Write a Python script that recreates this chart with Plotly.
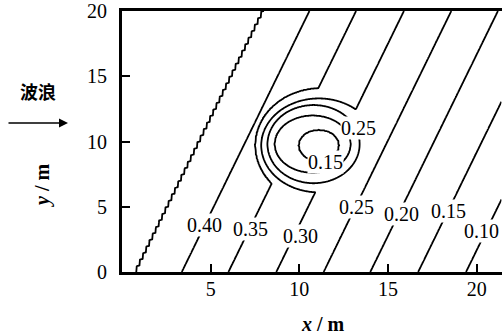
import numpy as np
import plotly.graph_objects as go

# ---- straight contour lines (read at y = 0) ----
levels = [0.45, 0.40, 0.35, 0.30, 0.25, 0.20, 0.15, 0.10]
bottom_x = [0.73, 3.37, 6.00, 8.70, 11.37, 14.00, 16.70, 19.40]
line_slope = 0.36  # dx/dy of the straight contours

# ---- closed / bulging contours around the low zone ----
ring_levels = [0.12, 0.15, 0.20, 0.25, 0.30, 0.35, 0.60]
ring_cx = [11.15, 11.10, 10.75, 10.80, 11.10, 11.20, 11.20]
ring_cy = [9.70, 9.70, 9.80, 9.80, 9.70, 9.70, 9.70]
ring_rx = [0.05, 1.15, 2.15, 2.60, 3.25, 3.70, 3.90]
ring_ry = [0.05, 1.20, 2.20, 3.00, 3.60, 4.40, 4.60]

# ---- contour labels ----
label_text = ["0.40", "0.35", "0.30", "0.25", "0.20", "0.15", "0.10", "0.25", "0.15"]
label_x = [4.68, 7.24, 10.04, 13.20, 15.74, 18.39, 20.30, 13.31, 11.50]
label_y = [3.60, 3.30, 2.76, 4.98, 4.44, 4.67, 3.14, 11.03, 8.43]

x_ticks = [5, 10, 15, 20]
y_ticks = [0, 5, 10, 15, 20]
x_max = 21.43

# ---- build the field ----
xs = np.round(np.arange(0, x_max + 0.001, 0.05), 3)
ys = np.round(np.arange(0, 20.001, 0.05), 3)
X, Y = np.meshgrid(xs, ys)

s = X - line_slope * Y
# stair-stepped 0.45 contour, as in the original print
w = np.clip((3.0 - s) / 1.5, 0, 1)
period = 0.5
s = s + 0.15 * ((Y / period) % 1.0 - 0.5) * w

bx = np.array(bottom_x)
lv = np.array(levels)
k0 = (lv[1] - lv[0]) / (bx[1] - bx[0])
k1 = (lv[-1] - lv[-2]) / (bx[-1] - bx[-2])
bx_ext = np.concatenate([[bx[0] - 30], bx, [bx[-1] + 30]])
lv_ext = np.concatenate([[lv[0] - 30 * k0], lv, [lv[-1] + 30 * k1]])
base = np.interp(s, bx_ext, lv_ext)

D = np.array([np.hypot((X - cx) / rx, (Y - cy) / ry)
              for cx, cy, rx, ry in zip(ring_cx, ring_cy, ring_rx, ring_ry)])
g = np.full(X.shape, 1.0)
g[D[0] <= 1] = ring_levels[0]
for k in range(1, len(ring_levels)):
    m = (D[k] <= 1) & (D[k - 1] > 1)
    t = (D[k - 1][m] - 1) / (D[k - 1][m] - D[k][m])
    g[m] = ring_levels[k - 1] + t * (ring_levels[k] - ring_levels[k - 1])

Z = np.round(np.minimum(base, g), 5)

fig = go.Figure()
fig.add_trace(go.Contour(
    x=xs, y=ys, z=Z,
    contours=dict(start=0.10, end=0.45, size=0.05, coloring="lines", showlabels=False),
    line=dict(width=1.8, smoothing=0.6),
    colorscale=[[0, "black"], [1, "black"]],
    showscale=False, hoverinfo="skip",
))

L, T, B = 122, 11, 63
PW, PH = 502 - L, 335 - T - B


def px(xp):
    return (xp - L) / PW


def py(yp):
    return (335 - B - yp) / PH


serif = "Times New Roman, Liberation Serif, serif"
ann = []
for txt, lx, ly in zip(label_text, label_x, label_y):
    ann.append(dict(x=lx, y=ly, xref="x", yref="y", text=txt, showarrow=False,
                    xanchor="center", yanchor="middle",
                    font=dict(family=serif, size=20, color="black"),
                    bgcolor="white", borderpad=0))

ann.append(dict(x=px(323), y=py(324), xref="paper", yref="paper",
                xanchor="center", yanchor="middle",
                text="<b><i>x</i> / m</b>", showarrow=False,
                font=dict(family=serif, size=20, color="black")))
ann.append(dict(x=px(42), y=py(186), xref="paper", yref="paper",
                xanchor="center", yanchor="middle",
                text="<b><i>y</i> / m</b>", showarrow=False, textangle=-90,
                font=dict(family=serif, size=20, color="black")))
ann.append(dict(x=px(38), y=py(91), xref="paper", yref="paper",
                xanchor="center", yanchor="middle",
                text="<b>波浪</b>", showarrow=False,
                font=dict(family="Noto Sans CJK SC", size=18, color="black")))
ann.append(dict(x=px(68), y=py(123), xref="paper", yref="paper", text="",
                showarrow=True, ax=-61, ay=0, arrowhead=2, arrowsize=1.2,
                arrowwidth=1.5, arrowcolor="black"))

fig.update_layout(
    width=502, height=335,
    margin=dict(l=L, r=0, t=T, b=B),
    paper_bgcolor="white", plot_bgcolor="white",
    showlegend=False,
    annotations=ann,
    xaxis=dict(range=[0, x_max], tickvals=x_ticks, ticks="inside", ticklen=8,
               tickwidth=1.5, tickcolor="black", showline=True, linewidth=3,
               linecolor="black", mirror=True, showgrid=False, zeroline=False,
               ticklabelstandoff=-3,
               tickfont=dict(family=serif, size=20, color="black")),
    yaxis=dict(range=[0, 20], tickvals=y_ticks, ticks="inside", ticklen=8,
               tickwidth=1.5, tickcolor="black", showline=True, linewidth=3,
               linecolor="black", mirror=False, showgrid=False, zeroline=False,
               ticklabelstandoff=8,
               tickfont=dict(family=serif, size=20, color="black")),
)

fig.write_html("out.html")
